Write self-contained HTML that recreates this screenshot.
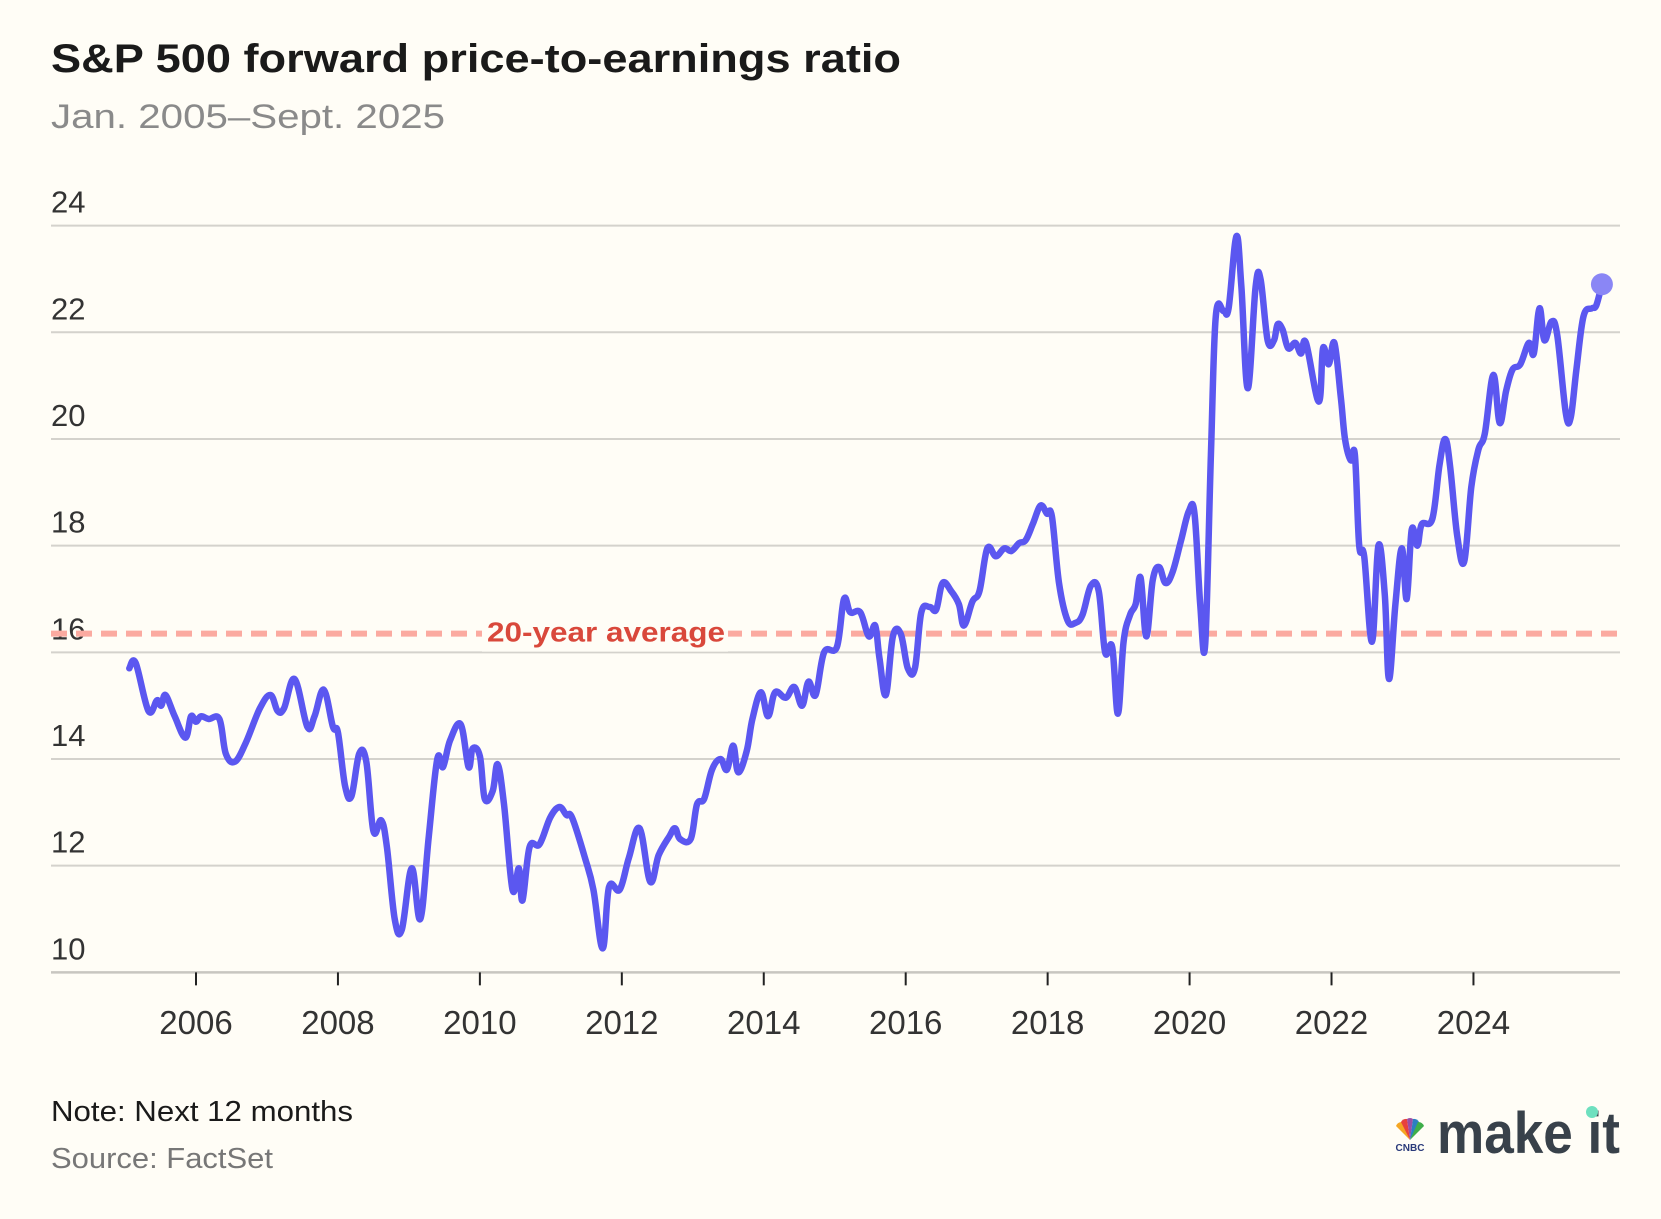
<!DOCTYPE html>
<html><head><meta charset="utf-8"><style>
html,body{margin:0;padding:0;background:#fffdf6;}
svg{display:block;font-family:"Liberation Sans",sans-serif;}
</style></head><body>
<svg id="chart" width="1661" height="1219" viewBox="0 0 1661 1219">
<rect x="0" y="0" width="1661" height="1219" fill="#fffdf6"/>
<text x="51" y="72" font-size="40" font-weight="bold" fill="#1a1a1a" textLength="850" lengthAdjust="spacingAndGlyphs">S&amp;P 500 forward price-to-earnings ratio</text>
<text x="51" y="128" font-size="34" fill="#8a8a8a" textLength="394" lengthAdjust="spacingAndGlyphs">Jan. 2005–Sept. 2025</text>
<g id="grid"></g>
<g id="xaxis"></g>
<g id="avg"></g>
<g id="series"></g>
<text x="51" y="1121" font-size="29" fill="#1a1a1a" textLength="302" lengthAdjust="spacingAndGlyphs">Note: Next 12 months</text>
<text x="51" y="1168" font-size="29" fill="#777" textLength="222" lengthAdjust="spacingAndGlyphs">Source: FactSet</text>
<g>
<g>
<path d="M1410,1140 L1396,1126 A6,6 0 0 1 1402,1122 Z" fill="#f5a623"/>
<path d="M1410,1140 L1401,1122 A6,6 0 0 1 1407,1119 Z" fill="#e8413d"/>
<path d="M1410,1140 L1407,1119 A5,5 0 0 1 1413,1119 Z" fill="#9b4fa6"/>
<path d="M1410,1140 L1413,1119 A6,6 0 0 1 1419,1122 Z" fill="#2c7fc1"/>
<path d="M1410,1140 L1418,1122 A6,6 0 0 1 1424,1126 Z" fill="#3fae49"/>
<text x="1410" y="1151" font-size="10" font-weight="bold" fill="#2a3a7a" text-anchor="middle">CNBC</text>
</g>
<text x="1437" y="1153" font-size="58" font-weight="bold" fill="#38414a" textLength="183" lengthAdjust="spacingAndGlyphs">make it</text>
<circle cx="1592" cy="1112" r="6" fill="#6ee0bf"/>
</g>
</svg>
<script>
const yTicks = [10, 12, 14, 16, 18, 20, 22, 24];
const xTicks = [2006, 2008, 2010, 2012, 2014, 2016, 2018, 2020, 2022, 2024];
const avgValue = 16.35;
const avgLabel = "20-year average";
const dates = [2005.06,2005.15,2005.33,2005.45,2005.51,2005.57,2005.70,2005.85,2005.93,2006.0,2006.07,2006.18,2006.33,2006.42,2006.55,2006.7,2006.9,2007.05,2007.15,2007.24,2007.39,2007.57,2007.67,2007.8,2007.93,2008.0,2008.1,2008.19,2008.3,2008.4,2008.5,2008.61,2008.69,2008.8,2008.9,2009.04,2009.16,2009.28,2009.4,2009.48,2009.58,2009.73,2009.84,2009.9,2010.0,2010.07,2010.18,2010.25,2010.34,2010.46,2010.55,2010.6,2010.7,2010.84,2010.99,2011.12,2011.22,2011.3,2011.48,2011.6,2011.73,2011.82,2011.97,2012.1,2012.25,2012.4,2012.52,2012.67,2012.75,2012.82,2012.97,2013.06,2013.16,2013.27,2013.39,2013.48,2013.57,2013.64,2013.76,2013.84,2013.96,2014.06,2014.16,2014.31,2014.43,2014.54,2014.63,2014.73,2014.85,2015.03,2015.13,2015.22,2015.36,2015.48,2015.57,2015.63,2015.72,2015.82,2015.93,2016.03,2016.13,2016.22,2016.34,2016.43,2016.52,2016.64,2016.75,2016.82,2016.94,2017.04,2017.15,2017.27,2017.39,2017.49,2017.6,2017.69,2017.79,2017.9,2017.99,2018.06,2018.16,2018.28,2018.39,2018.49,2018.61,2018.72,2018.81,2018.91,2018.99,2019.07,2019.16,2019.24,2019.31,2019.39,2019.48,2019.57,2019.66,2019.76,2019.88,2019.99,2020.07,2020.15,2020.22,2020.3,2020.37,2020.48,2020.55,2020.66,2020.73,2020.82,2020.93,2021.0,2021.1,2021.19,2021.24,2021.31,2021.39,2021.49,2021.57,2021.64,2021.82,2021.88,2021.96,2022.04,2022.13,2022.19,2022.27,2022.33,2022.39,2022.46,2022.57,2022.66,2022.75,2022.81,2022.9,2022.99,2023.06,2023.13,2023.21,2023.27,2023.42,2023.52,2023.6,2023.67,2023.77,2023.87,2023.97,2024.07,2024.16,2024.28,2024.37,2024.46,2024.55,2024.66,2024.78,2024.85,2024.93,2025.0,2025.1,2025.18,2025.3,2025.37,2025.45,2025.55,2025.67,2025.73,2025.81];
const peValues = [15.7,15.8,14.9,15.1,15.0,15.2,14.8,14.4,14.8,14.7,14.8,14.75,14.75,14.1,13.95,14.3,14.95,15.2,14.9,14.95,15.5,14.6,14.8,15.3,14.6,14.5,13.5,13.3,14.1,13.95,12.65,12.85,12.35,11.0,10.8,11.95,11.0,12.55,14.0,13.85,14.35,14.65,13.85,14.2,14.05,13.25,13.4,13.9,13.15,11.55,11.95,11.35,12.35,12.4,12.9,13.1,12.95,12.9,12.15,11.55,10.45,11.6,11.55,12.15,12.7,11.7,12.2,12.55,12.7,12.5,12.5,13.15,13.25,13.8,14.0,13.8,14.25,13.75,14.15,14.75,15.25,14.8,15.25,15.15,15.35,15.0,15.45,15.2,16.0,16.1,17.0,16.75,16.75,16.3,16.5,15.9,15.2,16.3,16.35,15.7,15.7,16.75,16.85,16.8,17.3,17.15,16.9,16.5,16.95,17.15,17.95,17.8,17.95,17.9,18.05,18.1,18.4,18.75,18.6,18.55,17.3,16.6,16.55,16.7,17.25,17.15,16.0,16.1,14.85,16.2,16.7,16.9,17.4,16.3,17.35,17.6,17.3,17.5,18.1,18.65,18.6,16.9,16.15,19.7,22.3,22.4,22.45,23.8,22.85,20.95,22.85,23.0,21.85,21.85,22.15,22.05,21.7,21.8,21.6,21.8,20.7,21.7,21.4,21.8,20.8,20.0,19.6,19.7,18.0,17.8,16.2,18.0,17.1,15.5,16.9,17.95,17.0,18.3,18.0,18.4,18.5,19.5,20.0,19.5,18.2,17.7,19.1,19.8,20.1,21.2,20.3,20.9,21.3,21.4,21.8,21.6,22.45,21.85,22.2,21.95,20.5,20.4,21.3,22.3,22.45,22.5,22.9];

const NS = "http://www.w3.org/2000/svg";
const X0 = 51, X1 = 1620;
function xScale(yr){ return 196 + (yr - 2006) * 70.97; }
function yScale(v){ return 225.6 + (24 - v) * 53.34; }
function mk(tag, attrs, parent){
  const e = document.createElementNS(NS, tag);
  for (const k in attrs) e.setAttribute(k, attrs[k]);
  parent.appendChild(e);
  return e;
}
const grid = document.getElementById('grid');
yTicks.forEach(function(v){
  const y = yScale(v);
  const l = mk('line', {x1: X0, x2: X1, y1: y, y2: y, stroke: v === 10 ? '#c8c6c0' : '#d4d2cc', 'stroke-width': v === 10 ? 2.5 : 2}, grid);
  
  
  const t = mk('text', {x: X0, y: y - 13, 'font-size': 31, fill: '#333'}, grid);
  t.textContent = String(v);
  
  
});
const xaxis = document.getElementById('xaxis');
xTicks.forEach(function(yr){
  const x = xScale(yr);
  const tk = mk('line', {x1: x, x2: x, y1: yScale(10), y2: yScale(10) + 13, stroke: '#222', 'stroke-width': 2}, xaxis);
  
  
  const t = mk('text', {x: x, y: 1034, 'font-size': 33, fill: '#333', 'text-anchor': 'middle'}, xaxis);
  t.textContent = String(yr);
  
  
});
const avg = document.getElementById('avg');
const ay = yScale(avgValue);
const al = mk('line', {x1: X0, x2: X1, y1: ay, y2: ay, stroke: '#fbaaa0', 'stroke-width': 6, 'stroke-dasharray': '16 9'}, avg);


const lbg = mk('rect', {x: 482, y: ay - 22, width: 246, height: 40, fill: '#fffdf6'}, avg);


const lt = mk('text', {x: 487, y: ay + 8, 'font-size': 28, 'font-weight': 'bold', fill: '#d9483b', textLength: 238, lengthAdjust: 'spacingAndGlyphs'}, avg);
lt.textContent = avgLabel;



const series = document.getElementById('series');
const pts = dates.map(function(d, i){ return [xScale(d), yScale(peValues[i])]; });
let dstr = 'M' + pts[0][0].toFixed(1) + ',' + pts[0][1].toFixed(1);
for (let i = 0; i < pts.length - 1; i++){
  const p0 = pts[Math.max(0, i - 1)], p1 = pts[i], p2 = pts[i + 1], p3 = pts[Math.min(pts.length - 1, i + 2)];
  const t = 0.18;
  const c1x = p1[0] + (p2[0] - p0[0]) * t, c1y = p1[1] + (p2[1] - p0[1]) * t;
  const c2x = p2[0] - (p3[0] - p1[0]) * t, c2y = p2[1] - (p3[1] - p1[1]) * t;
  dstr += ' C' + c1x.toFixed(1) + ',' + c1y.toFixed(1) + ' ' + c2x.toFixed(1) + ',' + c2y.toFixed(1) + ' ' + p2[0].toFixed(1) + ',' + p2[1].toFixed(1);
}
const path = mk('path', {d: dstr, fill: 'none', stroke: '#5b57f0', 'stroke-width': 6.5, 'stroke-linejoin': 'round', 'stroke-linecap': 'round'}, series);


const last = pts[pts.length - 1];
const dot = mk('circle', {cx: last[0], cy: last[1], r: 11, fill: '#8a86f5'}, series);


</script>
</body></html>
